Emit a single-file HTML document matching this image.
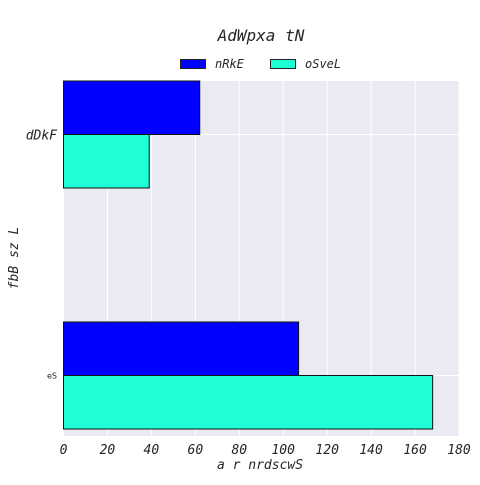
<!DOCTYPE html>
<html><head><meta charset="utf-8"><style>
body{margin:0;background:#fff;}
svg text{font-family:"DejaVu Sans Mono","Liberation Mono",monospace;font-style:italic;fill:#262626;}
</style></head><body>
<svg id="chart" width="480" height="480">
<text x="261" y="41" font-size="16" text-anchor="middle">AdWpxa tN</text>
<g>
<rect x="180.5" y="59.5" width="25" height="9" fill="#0000ff" stroke="#222"/>
<text x="215" y="68" font-size="12">nRkE</text>
<rect x="270.5" y="59.5" width="25" height="9" fill="#1effd6" stroke="#222"/>
<text x="305" y="68" font-size="12">oSveL</text>
</g>
<rect x="63.5" y="81" width="395.5" height="355" fill="#eaeaf2"/>
<g id="grid"></g><g id="bars"></g><g id="ticks"></g>
<text x="260" y="469" font-size="13" text-anchor="middle">a r nrdscwS</text>
<text transform="translate(18,258) rotate(-90)" font-size="13" text-anchor="middle">fbB sz L</text>
</svg>
<script>
const categories=["dDkF","eS"];
const seriesNames=["nRkE","oSveL"];
const nrkeValues=[62,107];
const osvelValues=[39,168];
const xTicks=[0,20,40,60,80,100,120,140,160,180];
const colors=["#0000ff","#1effd6"];
const ns="http://www.w3.org/2000/svg";
const x0=63.5,x1=459,xMax=180;
const xs=v=>x0+(v/xMax)*(x1-x0);
const yc=i=>134.5+i*241;
const bh=53.5;
const grid=document.getElementById('grid'),bars=document.getElementById('bars'),ticks=document.getElementById('ticks');
xTicks.forEach(t=>{
 const l=document.createElementNS(ns,'line');
 l.setAttribute('x1',xs(t));l.setAttribute('x2',xs(t));l.setAttribute('y1',81);l.setAttribute('y2',436);
 l.setAttribute('stroke','#fff');l.setAttribute('stroke-width','1');
 
 
 grid.appendChild(l);
 const tx=document.createElementNS(ns,'text');
 tx.setAttribute('x',xs(t));tx.setAttribute('y',454);tx.setAttribute('font-size','13');tx.setAttribute('text-anchor','middle');
 tx.textContent=t;
 
 
 ticks.appendChild(tx);
});
categories.forEach((c,i)=>{
 const l=document.createElementNS(ns,'line');
 l.setAttribute('x1',x0);l.setAttribute('x2',x1);l.setAttribute('y1',yc(i));l.setAttribute('y2',yc(i));
 l.setAttribute('stroke','#fff');
 
 
 grid.appendChild(l);
 const tx=document.createElementNS(ns,'text');
 tx.setAttribute('x',57);tx.setAttribute('y',yc(i)+(i==0?5:3));tx.setAttribute('text-anchor','end');
 tx.setAttribute('font-size',i==0?'13':'8');
 if(i!=0){tx.setAttribute('style','font-family:"DejaVu Sans",sans-serif;font-style:normal');}
 tx.textContent=c;
 
 
 ticks.appendChild(tx);
 [nrkeValues,osvelValues].forEach((vals,s)=>{
  const r=document.createElementNS(ns,'rect');
  r.setAttribute('x',x0);r.setAttribute('width',xs(vals[i])-x0);
  r.setAttribute('y',yc(i)-bh+s*bh);r.setAttribute('height',bh);
  r.setAttribute('fill',colors[s]);r.setAttribute('stroke','#111');r.setAttribute('stroke-width','1');
  
  
  bars.appendChild(r);
 });
});
</script>
</body></html>
